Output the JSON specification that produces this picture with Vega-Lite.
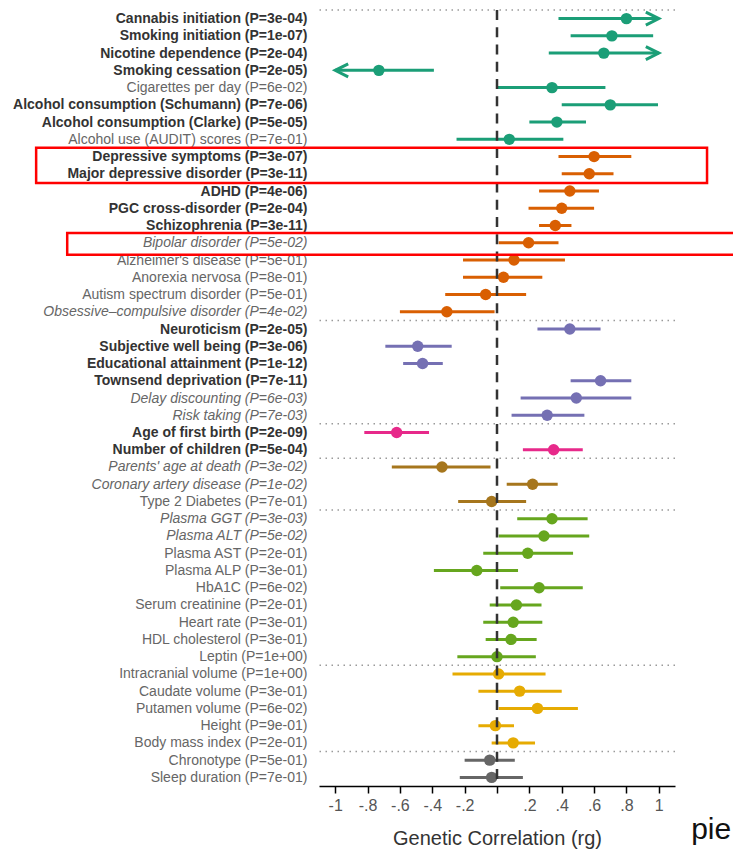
{
  "$schema": "https://vega.github.io/schema/vega-lite/v6.json",
  "width": 356,
  "height": 776,
  "autosize": {"type": "none"},
  "padding": {"left": 319, "top": 10, "right": 58, "bottom": 72},
  "background": "white",
  "config": {
    "font": "Liberation Sans",
    "view": {"stroke": null},
    "axis": {"grid": false}
  },
  "datasets": {
    "traits": [
      {"trait": "Cannabis initiation (P=3e-04)", "rg": 0.8, "lo": 0.38, "hi": 1.0, "group": "Substance use", "arrow": "right"},
      {"trait": "Smoking initiation (P=1e-07)", "rg": 0.71, "lo": 0.455, "hi": 0.965, "group": "Substance use", "arrow": ""},
      {"trait": "Nicotine dependence (P=2e-04)", "rg": 0.66, "lo": 0.32, "hi": 1.0, "group": "Substance use", "arrow": "right"},
      {"trait": "Smoking cessation (P=2e-05)", "rg": -0.73, "lo": -1.0, "hi": -0.39, "group": "Substance use", "arrow": "left"},
      {"trait": "Cigarettes per day (P=6e-02)", "rg": 0.34, "lo": 0.0, "hi": 0.67, "group": "Substance use", "arrow": ""},
      {"trait": "Alcohol consumption (Schumann) (P=7e-06)", "rg": 0.7, "lo": 0.4, "hi": 0.995, "group": "Substance use", "arrow": ""},
      {"trait": "Alcohol consumption (Clarke) (P=5e-05)", "rg": 0.37, "lo": 0.2, "hi": 0.55, "group": "Substance use", "arrow": ""},
      {"trait": "Alcohol use (AUDIT) scores (P=7e-01)", "rg": 0.076, "lo": -0.25, "hi": 0.41, "group": "Substance use", "arrow": ""},
      {"trait": "Depressive symptoms (P=3e-07)", "rg": 0.6, "lo": 0.38, "hi": 0.83, "group": "Psychiatric", "arrow": ""},
      {"trait": "Major depressive disorder (P=3e-11)", "rg": 0.57, "lo": 0.4, "hi": 0.72, "group": "Psychiatric", "arrow": ""},
      {"trait": "ADHD (P=4e-06)", "rg": 0.45, "lo": 0.26, "hi": 0.63, "group": "Psychiatric", "arrow": ""},
      {"trait": "PGC cross-disorder (P=2e-04)", "rg": 0.4, "lo": 0.195, "hi": 0.6, "group": "Psychiatric", "arrow": ""},
      {"trait": "Schizophrenia (P=3e-11)", "rg": 0.36, "lo": 0.26, "hi": 0.46, "group": "Psychiatric", "arrow": ""},
      {"trait": "Bipolar disorder (P=5e-02)", "rg": 0.195, "lo": 0.01, "hi": 0.38, "group": "Psychiatric", "arrow": ""},
      {"trait": "Alzheimer's disease (P=5e-01)", "rg": 0.105, "lo": -0.21, "hi": 0.42, "group": "Psychiatric", "arrow": ""},
      {"trait": "Anorexia nervosa (P=8e-01)", "rg": 0.04, "lo": -0.21, "hi": 0.28, "group": "Psychiatric", "arrow": ""},
      {"trait": "Autism spectrum disorder (P=5e-01)", "rg": -0.07, "lo": -0.32, "hi": 0.18, "group": "Psychiatric", "arrow": ""},
      {"trait": "Obsessive–compulsive disorder (P=4e-02)", "rg": -0.31, "lo": -0.6, "hi": -0.015, "group": "Psychiatric", "arrow": ""},
      {"trait": "Neuroticism (P=2e-05)", "rg": 0.45, "lo": 0.25, "hi": 0.64, "group": "Personality", "arrow": ""},
      {"trait": "Subjective well being (P=3e-06)", "rg": -0.49, "lo": -0.69, "hi": -0.28, "group": "Personality", "arrow": ""},
      {"trait": "Educational attainment (P=1e-12)", "rg": -0.46, "lo": -0.58, "hi": -0.335, "group": "Personality", "arrow": ""},
      {"trait": "Townsend deprivation (P=7e-11)", "rg": 0.64, "lo": 0.455, "hi": 0.83, "group": "Personality", "arrow": ""},
      {"trait": "Delay discounting (P=6e-03)", "rg": 0.49, "lo": 0.146, "hi": 0.83, "group": "Personality", "arrow": ""},
      {"trait": "Risk taking (P=7e-03)", "rg": 0.31, "lo": 0.09, "hi": 0.54, "group": "Personality", "arrow": ""},
      {"trait": "Age of first birth (P=2e-09)", "rg": -0.62, "lo": -0.82, "hi": -0.42, "group": "Reproductive", "arrow": ""},
      {"trait": "Number of children (P=5e-04)", "rg": 0.35, "lo": 0.16, "hi": 0.53, "group": "Reproductive", "arrow": ""},
      {"trait": "Parents' age at death (P=3e-02)", "rg": -0.34, "lo": -0.65, "hi": -0.04, "group": "Cardiovascular", "arrow": ""},
      {"trait": "Coronary artery disease (P=1e-02)", "rg": 0.22, "lo": 0.06, "hi": 0.375, "group": "Cardiovascular", "arrow": ""},
      {"trait": "Type 2 Diabetes (P=7e-01)", "rg": -0.033, "lo": -0.24, "hi": 0.18, "group": "Cardiovascular", "arrow": ""},
      {"trait": "Plasma GGT (P=3e-03)", "rg": 0.34, "lo": 0.125, "hi": 0.56, "group": "Metabolic", "arrow": ""},
      {"trait": "Plasma ALT (P=5e-02)", "rg": 0.29, "lo": 0.01, "hi": 0.57, "group": "Metabolic", "arrow": ""},
      {"trait": "Plasma AST (P=2e-01)", "rg": 0.19, "lo": -0.085, "hi": 0.47, "group": "Metabolic", "arrow": ""},
      {"trait": "Plasma ALP (P=3e-01)", "rg": -0.125, "lo": -0.39, "hi": 0.13, "group": "Metabolic", "arrow": ""},
      {"trait": "HbA1C (P=6e-02)", "rg": 0.26, "lo": 0.02, "hi": 0.53, "group": "Metabolic", "arrow": ""},
      {"trait": "Serum creatinine (P=2e-01)", "rg": 0.12, "lo": -0.045, "hi": 0.275, "group": "Metabolic", "arrow": ""},
      {"trait": "Heart rate (P=3e-01)", "rg": 0.1, "lo": -0.085, "hi": 0.28, "group": "Metabolic", "arrow": ""},
      {"trait": "HDL cholesterol (P=3e-01)", "rg": 0.087, "lo": -0.07, "hi": 0.245, "group": "Metabolic", "arrow": ""},
      {"trait": "Leptin (P=1e+00)", "rg": 0.0, "lo": -0.245, "hi": 0.24, "group": "Metabolic", "arrow": ""},
      {"trait": "Intracranial volume (P=1e+00)", "rg": 0.01, "lo": -0.275, "hi": 0.3, "group": "Anthropometric", "arrow": ""},
      {"trait": "Caudate volume (P=3e-01)", "rg": 0.14, "lo": -0.115, "hi": 0.4, "group": "Anthropometric", "arrow": ""},
      {"trait": "Putamen volume (P=6e-02)", "rg": 0.25, "lo": 0.01, "hi": 0.5, "group": "Anthropometric", "arrow": ""},
      {"trait": "Height (P=9e-01)", "rg": -0.01, "lo": -0.115, "hi": 0.105, "group": "Anthropometric", "arrow": ""},
      {"trait": "Body mass index (P=2e-01)", "rg": 0.1, "lo": -0.033, "hi": 0.235, "group": "Anthropometric", "arrow": ""},
      {"trait": "Chronotype (P=5e-01)", "rg": -0.045, "lo": -0.2, "hi": 0.11, "group": "Sleep", "arrow": ""},
      {"trait": "Sleep duration (P=7e-01)", "rg": -0.033, "lo": -0.23, "hi": 0.16, "group": "Sleep", "arrow": ""}
    ],
    "seps": [
      {"pos": 0.5}, {"pos": 8.5}, {"pos": 18.5}, {"pos": 24.5},
      {"pos": 26.5}, {"pos": 29.5}, {"pos": 38.5}, {"pos": 43.5}
    ],
    "boxes": [
      {"x1": -2.848, "x2": 1.298, "y1": 8.49, "y2": 10.53},
      {"x1": -2.656, "x2": 1.7, "y1": 13.43, "y2": 14.69}
    ],
    "notes": [
      {"label": "pie", "x": 1.2, "y": 48.6}
    ]
  },
  "layer": [
    {
      "data": {"name": "traits"},
      "layer": [
        {
          "mark": {"type": "rule", "strokeWidth": 3},
          "encoding": {
            "y": {
              "field": "trait", "type": "nominal", "sort": null,
              "scale": {"type": "point", "padding": 0.5},
              "axis": {
                "title": null, "domain": false, "ticks": false,
                "labelPadding": 12, "labelFontSize": 14, "labelLimit": 400,
                "labelFontWeight": {"condition": {"test": "toNumber(slice(datum.value, indexof(datum.value, 'P=') + 2, -1)) < 0.001", "value": "bold"}, "value": "normal"},
                "labelFontStyle": {"condition": {"test": "toNumber(slice(datum.value, indexof(datum.value, 'P=') + 2, -1)) >= 0.001 && toNumber(slice(datum.value, indexof(datum.value, 'P=') + 2, -1)) <= 0.05", "value": "italic"}, "value": "normal"},
                "labelColor": {"condition": {"test": "toNumber(slice(datum.value, indexof(datum.value, 'P=') + 2, -1)) < 0.001", "value": "#333333"}, "value": "#666666"}
              }
            },
            "x": {
              "field": "lo", "type": "quantitative",
              "scale": {"domain": [-1.1, 1.1], "nice": false, "zero": false},
              "axis": {
                "values": [-1, -0.8, -0.6, -0.4, -0.2, 0, 0.2, 0.4, 0.6, 0.8, 1],
                "tickCount": 30,
                "labelExpr": "datum.value == 0 ? '' : (datum.value < 0 ? '-' : '') + replace(format(abs(datum.value), '.1~f'), '0.', '.')",
                "labelOverlap": false,
                "domainColor": "#000000", "domainWidth": 1.5,
                "tickColor": "#000000", "tickWidth": 1.5, "tickSize": 7,
                "labelFontSize": 16, "labelColor": "#555555", "labelPadding": 4,
                "title": "Genetic Correlation (rg)", "titleFontSize": 20,
                "titleFontWeight": "normal", "titleColor": "#333333", "titlePadding": 15
              }
            },
            "x2": {"field": "hi"},
            "color": {
              "field": "group", "type": "nominal", "legend": null,
              "scale": {
                "domain": ["Substance use", "Psychiatric", "Personality", "Reproductive", "Cardiovascular", "Metabolic", "Anthropometric", "Sleep"],
                "range": ["#1b9e77", "#d95f02", "#7570b3", "#e7298a", "#a6761d", "#66a61e", "#e6ab02", "#666666"]
              }
            }
          }
        },
        {
          "mark": {"type": "point", "shape": "circle", "filled": true, "size": 130, "opacity": 1},
          "encoding": {
            "y": {"field": "trait", "type": "nominal", "sort": null, "scale": {"type": "point", "padding": 0.5}},
            "x": {"field": "rg", "type": "quantitative", "scale": {"domain": [-1.1, 1.1], "nice": false, "zero": false}},
            "color": {"field": "group", "type": "nominal", "legend": null}
          }
        },
        {
          "transform": [{"filter": "datum.arrow == 'right'"}],
          "mark": {"type": "point", "shape": "M-2,-1L0,0L-2,1", "filled": false, "size": 169, "strokeWidth": 3, "opacity": 1, "strokeJoin": "miter"},
          "encoding": {
            "y": {"field": "trait", "type": "nominal", "sort": null, "scale": {"type": "point", "padding": 0.5}},
            "x": {"field": "hi", "type": "quantitative", "scale": {"domain": [-1.1, 1.1], "nice": false, "zero": false}},
            "color": {"field": "group", "type": "nominal", "legend": null}
          }
        },
        {
          "transform": [{"filter": "datum.arrow == 'left'"}],
          "mark": {"type": "point", "shape": "M2,-1L0,0L2,1", "filled": false, "size": 169, "strokeWidth": 3, "opacity": 1, "strokeJoin": "miter"},
          "encoding": {
            "y": {"field": "trait", "type": "nominal", "sort": null, "scale": {"type": "point", "padding": 0.5}},
            "x": {"field": "lo", "type": "quantitative", "scale": {"domain": [-1.1, 1.1], "nice": false, "zero": false}},
            "color": {"field": "group", "type": "nominal", "legend": null}
          }
        }
      ]
    },
    {
      "layer": [
        {
          "data": {"name": "seps"},
          "mark": {"type": "rule", "color": "#9a9a9a", "strokeWidth": 1.5, "strokeDash": [1.5, 4.5]},
          "encoding": {
            "y": {"field": "pos", "type": "quantitative", "scale": {"domain": [0.5, 45.5], "reverse": true, "nice": false, "zero": false}, "axis": null}
          }
        },
        {
          "data": {"values": [{"v": 0}]},
          "mark": {"type": "rule", "color": "#333333", "strokeWidth": 2.5, "strokeDash": [10, 7.25]},
          "encoding": {
            "x": {"field": "v", "type": "quantitative", "scale": {"domain": [-1.1, 1.1], "nice": false, "zero": false}}
          }
        },
        {
          "data": {"name": "boxes"},
          "mark": {"type": "rect", "filled": false, "stroke": "#ff0000", "strokeWidth": 2.5, "fill": null},
          "encoding": {
            "x": {"field": "x1", "type": "quantitative", "scale": {"domain": [-1.1, 1.1], "nice": false, "zero": false}},
            "x2": {"field": "x2"},
            "y": {"field": "y1", "type": "quantitative", "scale": {"domain": [0.5, 45.5], "reverse": true, "nice": false, "zero": false}, "axis": null},
            "y2": {"field": "y2"}
          }
        },
        {
          "data": {"name": "notes"},
          "mark": {"type": "text", "align": "left", "baseline": "alphabetic", "fontSize": 30, "color": "#111111"},
          "encoding": {
            "x": {"field": "x", "type": "quantitative", "scale": {"domain": [-1.1, 1.1], "nice": false, "zero": false}},
            "y": {"field": "y", "type": "quantitative", "scale": {"domain": [0.5, 45.5], "reverse": true, "nice": false, "zero": false}, "axis": null},
            "text": {"field": "label"}
          }
        }
      ]
    }
  ],
  "resolve": {"scale": {"y": "independent"}, "axis": {"y": "independent"}}
}
